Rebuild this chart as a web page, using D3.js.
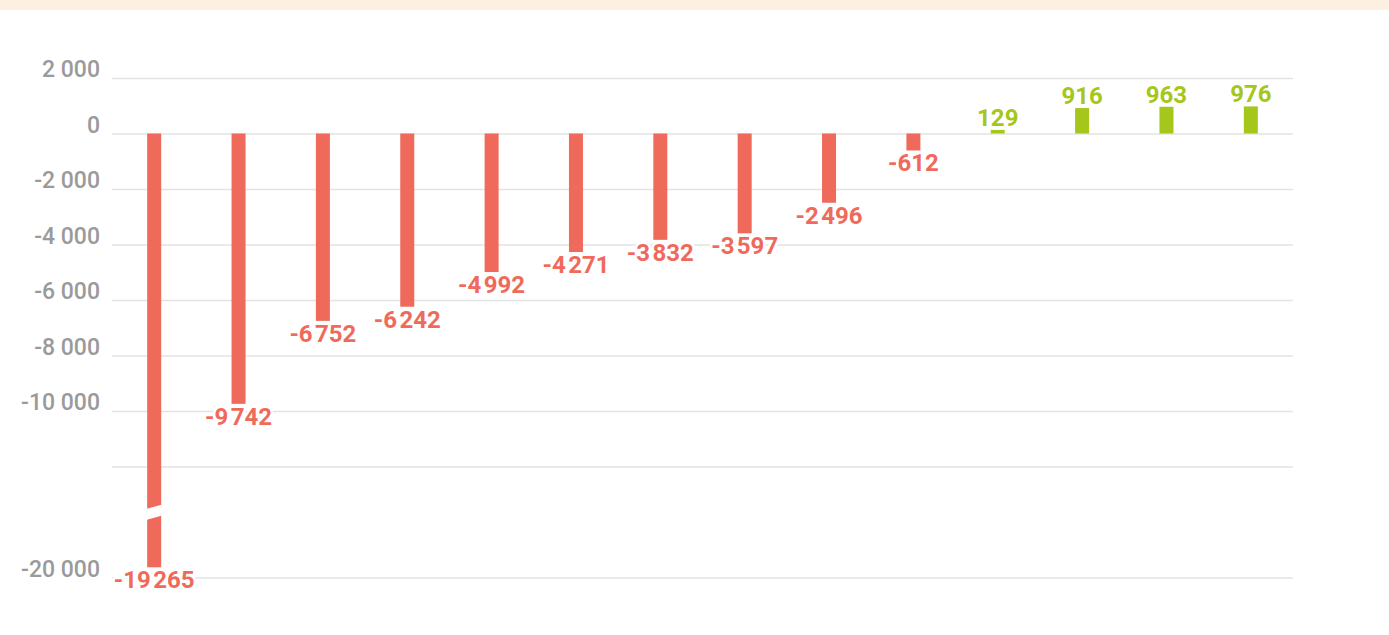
<!DOCTYPE html>
<html>
<head>
<meta charset="utf-8">
<script src="https://cdn.jsdelivr.net/npm/d3@7"></script>
<style>
  body { margin: 0; background: #fff; font-family: Roboto, "Noto Sans", sans-serif; }
  .grid line { stroke: #e3e3e3; stroke-width: 1.5; }
  .grid path { display: none; }
  .yaxis text { fill: #9a9a9a; font-size: 23px; font-weight: 500; font-family: Roboto, sans-serif; }
  .yaxis path, .yaxis line { display: none; }
  .val { font-family: Roboto, sans-serif; font-size: 24px; font-weight: bold; paint-order: stroke; stroke: #fff; stroke-width: 5px; stroke-linejoin: round; }
</style>
</head>
<body>
<div id="chart"></div>
<script>
var categories = ["1", "2", "3", "4", "5", "6", "7", "8", "9", "10", "11", "12", "13", "14"];
var values = [-19265, -9742, -6752, -6242, -4992, -4271, -3832, -3597, -2496, -612, 129, 916, 963, 976];
var tickValues = [2000, 0, -2000, -4000, -6000, -8000, -10000, -12000, -20000];
var tickLabels = ["2 000", "0", "-2 000", "-4 000", "-6 000", "-8 000", "-10 000", "", "-20 000"];
var breakAt = -15300;

var w = 1389, h = 635
    , left = 112, right = 1293;
var red = "#ef6a5a", green = "#a5c61a";

var svg = d3.select("#chart").append("svg")
    .attr("width", w)
    .attr("height", h);

svg.append("rect")
    .attr("x", 0).attr("y", 0)
    .attr("width", w).attr("height", 10)
    .attr("fill", "#fdf0e1");

var x = d3.scaleBand()
    .domain(categories)
    .range([left, right])
    .paddingInner(0.834)
    .paddingOuter(0.417);

// broken axis: the part below -12 000 is squeezed
var y = d3.scaleLinear()
    .domain([2000, -12000, -20000])
    .range([78, 466.5, 577.5]);

svg.append("g")
    .attr("class", "grid")
    .attr("transform", "translate(" + left + ",0)")
    .call(d3.axisLeft(y).tickValues(tickValues).tickSize(-(right - left)).tickFormat(""));

svg.append("g")
    .attr("class", "yaxis")
    .attr("transform", "translate(" + left + ",0)")
    .call(d3.axisLeft(y).tickValues(tickValues).tickSize(0).tickPadding(12)
      .tickFormat(function(d, i) { return tickLabels[i]; }))
    .selectAll("text")
    .attr("dy", "-0.05em");

var fmt = function(v) {
  var s = Math.abs(v).toString();
  if (s.length > 3) s = s.slice(0, s.length - 3) + "\u200A" + s.slice(s.length - 3);
  return (v < 0 ? "-" : "") + s;
};

var bars = svg.append("g");
bars.selectAll("rect")
    .data(values)
    .enter()
    .append("rect")
    .attr("x", function(d, i) { return x(categories[i]); })
    .attr("width", x.bandwidth())
    .attr("y", function(d) { return d < 0 ? y(0) : y(d); })
    .attr("height", function(d) { return Math.abs(y(d) - y(0)); })
    .attr("fill", function(d) { return d < 0 ? red : green; });

// break marks on bars crossing the break
values.forEach(function(d, i) {
  if (d < breakAt) {
    var x0 = x(categories[i]) - 2, x1 = x0 + x.bandwidth() + 4, yb = y(breakAt);
    svg.append("polygon")
        .attr("points", [[x0, yb - 3], [x1, yb - 8], [x1, yb + 3], [x0, yb + 8]].map(function(p) { return p.join(","); }).join(" "))
        .attr("fill", "#fff");
  }
});

svg.append("g").selectAll("text")
    .data(values)
    .enter()
    .append("text")
    .attr("class", "val")
    .attr("text-anchor", "middle")
    .attr("x", function(d, i) { return x(categories[i]) + x.bandwidth() / 2; })
    .attr("y", function(d) { return d < 0 ? y(d) + 21 : y(d) - 4; })
    .attr("fill", function(d) { return d < 0 ? red : green; })
    .text(function(d) { return fmt(d); });
</script>
</body>
</html>
